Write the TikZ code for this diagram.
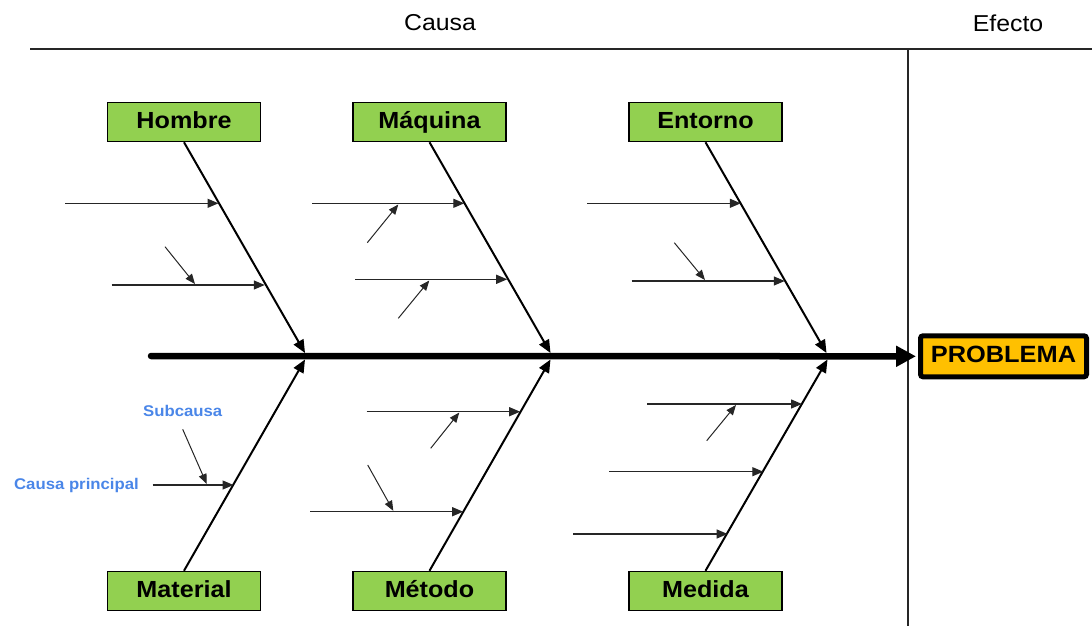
\documentclass[tikz,border=0pt]{standalone}
\usepackage{fontspec}
\setmainfont[FakeStretch=1.08]{Liberation Sans}
\usetikzlibrary{arrows.meta}
\definecolor{boxgreen}{RGB}{146,208,80}
\definecolor{probfill}{RGB}{255,192,0}
\definecolor{labblue}{RGB}{74,134,232}
\tikzset{
  catbox/.style={draw=black, line width=1.5pt, fill=boxgreen, minimum width=153pt, minimum height=39pt, inner sep=0pt, text height=17pt, text depth=5pt, font=\bfseries\fontsize{23.3}{28}\selectfont},
  probbox/.style={draw=black, line width=5pt, fill=probfill, rounded corners=2.5pt, minimum width=166pt, minimum height=41pt, inner sep=0pt, text height=17pt, text depth=5pt, font=\bfseries\fontsize{23.5}{28}\selectfont},
  headtext/.style={inner sep=0pt, font=\fontsize{23}{28}\selectfont},
  bluelab/.style={inner sep=0pt, text=labblue, font=\bfseries\fontsize{15.5}{18}\selectfont},
  bone/.style={line width=2pt, -{Triangle[length=13pt,width=11pt]}},
  causearrow/.style={line width=1.3pt, draw=black!85, -{Triangle[length=11pt,width=9pt]}},
  subarrow/.style={line width=1pt, draw=black!85, -{Triangle[length=10pt,width=8pt]}},
  spinearrow/.style={line width=6.5pt, line cap=round, -{Triangle[length=20pt,width=20pt]}},
  frameline/.style={line width=1.2pt, draw=black!85}
}
\begin{document}
\begin{tikzpicture}[x=1pt,y=-1pt]
\useasboundingbox (0,0) rectangle (1092,626);
% header
\node[headtext] (causa) at (440,23) {Causa};
\node[headtext] (efecto) at (1008,23) {Efecto};
\coordinate (hl) at (30,49);
\coordinate (hr) at (1092,49);
\coordinate (vt) at (908,49);
\coordinate (vb) at (908,626);
\draw[frameline] (hl) -- (hr);
\draw[frameline] (vt) -- (vb);
% boxes
\node[catbox] (hom) at (184,122) {Hombre};
\node[catbox] (maq) at (429.5,122) {Máquina};
\node[catbox] (ent) at (705.5,122) {Entorno};
\node[catbox] (mat) at (184,591) {Material};
\node[catbox] (met) at (429.5,591) {Método};
\node[catbox] (med) at (705.5,591) {Medida};
\node[probbox] (prob) at (1003.5,356.3) {PROBLEMA};
% spine
\coordinate (sp0) at (151,356);
\draw[spinearrow, shorten >=2pt] (sp0) -- (prob.west);
% bone ends
\coordinate (hE) at (305,353);
\coordinate (qE) at (550.5,353);
\coordinate (eE) at (826.5,353);
\coordinate (mE) at (305,359.5);
\coordinate (tE) at (550.5,359.5);
\coordinate (dE) at (827.5,359.5);
\draw[bone] (hom.south) -- (hE);
\draw[bone] (maq.south) -- (qE);
\draw[bone] (ent.south) -- (eE);
\draw[bone] (mat.north) -- (mE);
\draw[bone] (met.north) -- (tE);
\draw[bone] (med.north) -- (dE);
% Hombre causes
\coordinate (h1a) at (65,203.3);   \coordinate (h1b) at (218.5,203.3);
\coordinate (h2a) at (111.7,285);  \coordinate (h2b) at (264.8,285);
\coordinate (h2s) at (165,246.7);  \coordinate (h2t) at (195,284);
\draw[causearrow] (h1a) -- (h1b);
\draw[causearrow] (h2a) -- (h2b);
\draw[subarrow] (h2s) -- (h2t);
% Maquina causes
\coordinate (q1a) at (312,203.3);  \coordinate (q1b) at (464.3,203.3);
\coordinate (q1s) at (367.3,242.7); \coordinate (q1t) at (398.3,204.5);
\coordinate (q2a) at (355,279.3);  \coordinate (q2b) at (507.2,279.3);
\coordinate (q2s) at (398.3,318.3); \coordinate (q2t) at (429.3,280.5);
\draw[causearrow] (q1a) -- (q1b);
\draw[subarrow] (q1s) -- (q1t);
\draw[causearrow] (q2a) -- (q2b);
\draw[subarrow] (q2s) -- (q2t);
% Entorno causes
\coordinate (e1a) at (587.3,203.3); \coordinate (e1b) at (740.8,203.3);
\coordinate (e2a) at (631.7,281);   \coordinate (e2b) at (784.8,281);
\coordinate (e2s) at (674.3,242.7); \coordinate (e2t) at (705,280);
\draw[causearrow] (e1a) -- (e1b);
\draw[causearrow] (e2a) -- (e2b);
\draw[subarrow] (e2s) -- (e2t);
% Material causes
\node[bluelab] (subl) at (182.7,411) {Subcausa};
\node[bluelab, anchor=east] (cpl) at (139,485) {Causa principal};
\coordinate (m1a) at (152.7,485);  \coordinate (m1b) at (233.5,485);
\coordinate (m1s) at (182.7,429.3); \coordinate (m1t) at (206.7,484);
\draw[causearrow] (m1a) -- (m1b);
\draw[subarrow] (m1s) -- (m1t);
% Metodo causes
\coordinate (t1a) at (366.7,411.7); \coordinate (t1b) at (520.2,411.7);
\coordinate (t1s) at (430.7,448.3); \coordinate (t1t) at (459.3,412.5);
\coordinate (t2a) at (310,511.7);   \coordinate (t2b) at (463.2,511.7);
\coordinate (t2s) at (367.7,465);   \coordinate (t2t) at (393.3,510.8);
\draw[causearrow] (t1a) -- (t1b);
\draw[subarrow] (t1s) -- (t1t);
\draw[causearrow] (t2a) -- (t2b);
\draw[subarrow] (t2s) -- (t2t);
% Medida causes
\coordinate (d1a) at (647.3,404);   \coordinate (d1b) at (802,404);
\coordinate (d1s) at (706.7,440.7); \coordinate (d1t) at (736,405);
\coordinate (d2a) at (609,471.7);   \coordinate (d2b) at (763.3,471.7);
\coordinate (d3a) at (573.3,534);   \coordinate (d3b) at (727.6,534);
\draw[causearrow] (d1a) -- (d1b);
\draw[subarrow] (d1s) -- (d1t);
\draw[causearrow] (d2a) -- (d2b);
\draw[causearrow] (d3a) -- (d3b);
\end{tikzpicture}
\end{document}
